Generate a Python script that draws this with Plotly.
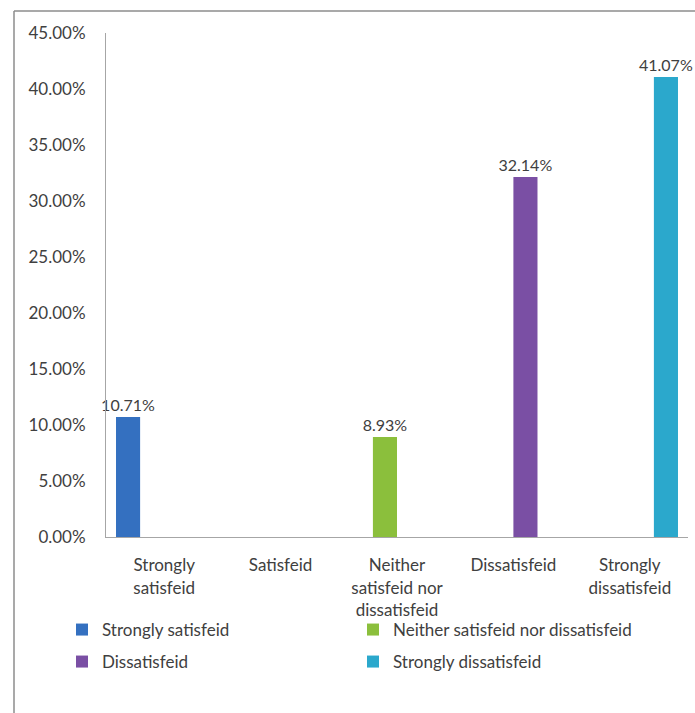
import plotly.graph_objects as go

categories = ["Strongly<br>satisfeid", "Satisfeid", "Neither<br>satisfeid nor<br>dissatisfeid",
              "Dissatisfeid", "Strongly<br>dissatisfeid"]
series_names = ["Strongly satisfeid", "Neither satisfeid nor dissatisfeid",
                "Dissatisfeid", "Strongly dissatisfeid"]
series_categories = [categories[0], categories[2], categories[3], categories[4]]
series_values = [0.1071, 0.0893, 0.3214, 0.4107]
series_colors = ["#3470c0", "#8bbf3c", "#7a4fa4", "#2ba8cc"]
legend_ids = ["legend", "legend", "legend2", "legend2"]

tick_vals = [0, 0.05, 0.10, 0.15, 0.20, 0.25, 0.30, 0.35, 0.40, 0.45]
tick_text = ["0.00%", "5.00%", "10.00%", "15.00%", "20.00%", "25.00%",
             "30.00%", "35.00%", "40.00%", "45.00%"]

FONT = "Lato, 'Open Sans', sans-serif"
TXT = "#404040"

fig = go.Figure()
for i, (name, cat, val, col, lg) in enumerate(zip(series_names, series_categories,
                                                  series_values, series_colors, legend_ids)):
    ys = [val if c == cat else None for c in categories]
    texts = [f"{val*100:.2f}%" if c == cat else "" for c in categories]
    fig.add_trace(go.Bar(
        name=name, x=categories, y=ys, marker_color=col, marker_line_width=0,
        offsetgroup=str(i),
        text=texts, textposition="outside", cliponaxis=False, textangle=0,
        constraintext="none",
        textfont=dict(family=FONT, size=16, color=TXT), legend=lg,
    ))

L, R, T, B = 106, 7, 33, 176
W, H = 695, 713
pw, ph = W - L - R, H - T - B

def px(x):
    return (x - L) / pw

def py(y):
    return (H - B - y) / ph

leg_common = dict(orientation="h", xanchor="left", yanchor="middle",
                  font=dict(family=FONT, size=17, color=TXT),
                  entrywidthmode="pixels", entrywidth=246,
                  bgcolor="rgba(0,0,0,0)", itemclick=False)

fig.update_layout(
    width=W, height=H,
    margin=dict(l=L, r=R, t=T, b=B),
    paper_bgcolor="white", plot_bgcolor="white",
    barmode="group", bargap=0.172, bargroupgap=0,
    font=dict(family=FONT, color=TXT),
    legend=dict(x=px(62), y=py(630), **leg_common),
    legend2=dict(x=px(62), y=py(662), **leg_common),
    xaxis=dict(categoryorder="array", categoryarray=categories,
               showline=True, linecolor="#a6a6a6", linewidth=1,
               ticks="", tickfont=dict(family=FONT, size=17, color=TXT),
               showgrid=False, fixedrange=True, ticklabelstandoff=13),
    yaxis=dict(range=[0, 0.45], tickvals=tick_vals, ticktext=tick_text,
               showline=True, linecolor="#a6a6a6", linewidth=1,
               ticks="", tickfont=dict(family=FONT, size=17, color=TXT),
               showgrid=False, zeroline=False, fixedrange=True, ticklabelstandoff=16),
    shapes=[
        dict(type="line", xref="paper", yref="paper", x0=px(14), x1=px(14),
             y0=py(11), y1=py(H + 5), line=dict(color="#8c8c8c", width=1.5)),
        dict(type="line", xref="paper", yref="paper", x0=px(14), x1=px(W + 5),
             y0=py(11), y1=py(11), line=dict(color="#8c8c8c", width=1.5)),
    ],
)

fig.write_html("out.html")
